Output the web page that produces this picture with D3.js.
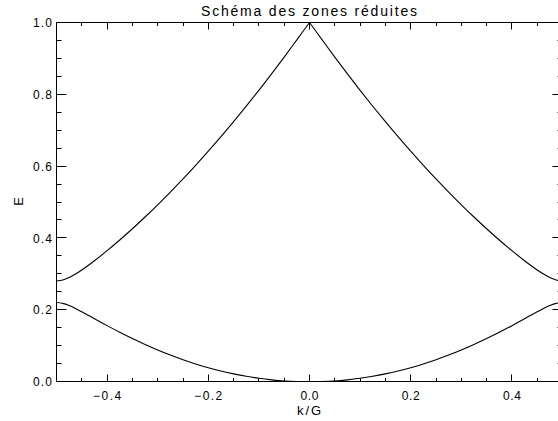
<!DOCTYPE html>
<html>
<head>
<meta charset="utf-8">
<script src="https://cdn.jsdelivr.net/npm/d3@7"></script>
<style>
  html, body { margin: 0; padding: 0; background: #fff; }
  svg { display: block; }
  text { font-family: "Liberation Sans", Arial, sans-serif; fill: #000; }
</style>
</head>
<body>
<svg id="chart" width="558" height="421"></svg>
<script>
// ---- data ----
const kValues = [
  -0.5, -0.4875, -0.475, -0.4625, -0.45, -0.4375, -0.425, -0.4, -0.375, -0.35, -0.325, -0.3, -0.275,
  -0.25, -0.225, -0.2, -0.175, -0.15, -0.125, -0.1, -0.075, -0.05, -0.025,
  0,
  0.025, 0.05, 0.075, 0.1, 0.125, 0.15, 0.175, 0.2, 0.225,
  0.25, 0.275, 0.3, 0.325, 0.35, 0.375, 0.4, 0.425, 0.4375, 0.45, 0.4625, 0.475, 0.4875, 0.5
];
const lowerBand = [
  0.2200, 0.2177, 0.2116, 0.2034, 0.1942, 0.1846, 0.1748, 0.1556, 0.1371, 0.1195, 0.1031, 0.0878, 0.0736,
  0.0607, 0.0490, 0.0385, 0.0292, 0.0212, 0.0144, 0.0089, 0.0046, 0.0015, 0.0000,
  0.0000,
  0.0000, 0.0015, 0.0046, 0.0089, 0.0144, 0.0212, 0.0292, 0.0385, 0.0490,
  0.0607, 0.0736, 0.0878, 0.1031, 0.1195, 0.1371, 0.1556, 0.1748, 0.1846, 0.1942, 0.2034, 0.2116, 0.2177, 0.2200
];
const upperBand = [
  0.2800, 0.2827, 0.2897, 0.2994, 0.3108, 0.3232, 0.3364, 0.3644, 0.3942, 0.4255, 0.4582, 0.4922, 0.5276,
  0.5643, 0.6023, 0.6415, 0.6820, 0.7238, 0.7668, 0.8111, 0.8567, 0.9035, 0.9516,
  1.0000,
  0.9516, 0.9035, 0.8567, 0.8111, 0.7668, 0.7238, 0.6820, 0.6415, 0.6023,
  0.5643, 0.5276, 0.4922, 0.4582, 0.4255, 0.3942, 0.3644, 0.3364, 0.3232, 0.3108, 0.2994, 0.2897, 0.2827, 0.2800
];
const xTickValues = [-0.4, -0.2, 0.0, 0.2, 0.4];
const xTickLabels = ["\u22120.4", "\u22120.2", "0.0", "0.2", "0.4"];
const yTickValues = [0.0, 0.2, 0.4, 0.6, 0.8, 1.0];
const yTickLabels = ["0.0", "0.2", "0.4", "0.6", "0.8", "1.0"];
const titleText = "Schéma des zones réduites";
const xTitle = "k/G";
const yTitle = "E";

// ---- layout ----
const svg = d3.select("#chart");
const pLeft = 56.5, pRight = 562.5, pTop = 22.5, pBottom = 381.5;
const x = d3.scaleLinear().domain([-0.5, 0.5]).range([pLeft, pRight]);
const y = d3.scaleLinear().domain([0, 1]).range([pBottom, pTop]);

const xMinor = d3.range(-0.5, 0.5001, 0.05).map(v => Math.round(v * 100) / 100);
const yMinor = d3.range(0, 1.0001, 0.05).map(v => Math.round(v * 100) / 100);
const isMajor = (v, arr) => arr.some(m => Math.abs(m - v) < 1e-9);

const xLenMajor = 7, xLenMinor = 3.5, yLenMajor = 10, yLenMinor = 5;
const g = svg.append("g").attr("stroke", "#000").attr("stroke-width", 1).attr("fill", "none");

// frame
g.append("rect").attr("x", pLeft).attr("y", pTop).attr("width", pRight - pLeft).attr("height", pBottom - pTop);

// x ticks (bottom up, top down)
xMinor.forEach(v => {
  const L = isMajor(v, xTickValues) ? xLenMajor : xLenMinor;
  const px = Math.round(x(v) - 0.5) + 0.5;
  g.append("line").attr("x1", px).attr("x2", px).attr("y1", pBottom).attr("y2", pBottom - L);
  g.append("line").attr("x1", px).attr("x2", px).attr("y1", pTop).attr("y2", pTop + L);
});
// y ticks (left right-pointing, right left-pointing)
yMinor.forEach(v => {
  const L = isMajor(v, yTickValues) ? yLenMajor : yLenMinor;
  const py = Math.round(y(v) - 0.5) + 0.5;
  g.append("line").attr("x1", pLeft).attr("x2", pLeft + L).attr("y1", py).attr("y2", py);
  g.append("line").attr("x1", pRight).attr("x2", pRight - L).attr("y1", py).attr("y2", py);
});

// tick labels
xTickValues.forEach((v, i) => {
  const t = xTickLabels[i];
  svg.append("text").attr("x", x(v)).attr("y", 400)
    .attr("text-anchor", "middle").attr("font-size", 12)
    .attr("textLength", t.length > 3 ? 28 : 18).attr("lengthAdjust", "spacing")
    .text(t);
});
yTickValues.forEach((v, i) => {
  svg.append("text").attr("x", 52).attr("y", y(v) + 1.5)
    .attr("text-anchor", "end").attr("dominant-baseline", "middle").attr("font-size", 12)
    .attr("textLength", 19).attr("lengthAdjust", "spacing")
    .text(yTickLabels[i]);
});

// titles
svg.append("text").attr("x", 309).attr("y", 15.5).attr("text-anchor", "middle")
  .attr("font-size", 14).attr("textLength", 216).attr("lengthAdjust", "spacing").text(titleText);
svg.append("text").attr("x", 309).attr("y", 415).attr("text-anchor", "middle")
  .attr("font-size", 13).attr("textLength", 24).attr("lengthAdjust", "spacing").text(xTitle);
svg.append("text").attr("transform", "translate(22.5,201.5) rotate(-90)").attr("text-anchor", "middle")
  .attr("font-size", 13).text(yTitle);

// curves
const pts = kValues.map((k, i) => ({ k, lo: lowerBand[i], up: upperBand[i] }));
const lineLo = d3.line().x(d => x(d.k)).y(d => y(d.lo)).curve(d3.curveCatmullRom.alpha(0.5));
const lineUp = d3.line().x(d => x(d.k)).y(d => y(d.up)).curve(d3.curveCatmullRom.alpha(0.5));
const curves = svg.append("g").attr("fill", "none").attr("stroke", "#000").attr("stroke-width", 1.1);
curves.append("path").attr("d", lineLo(pts));
curves.append("path").attr("d", lineUp(pts.filter(d => d.k <= 0)));
curves.append("path").attr("d", lineUp(pts.filter(d => d.k >= 0)));
</script>
</body>
</html>
